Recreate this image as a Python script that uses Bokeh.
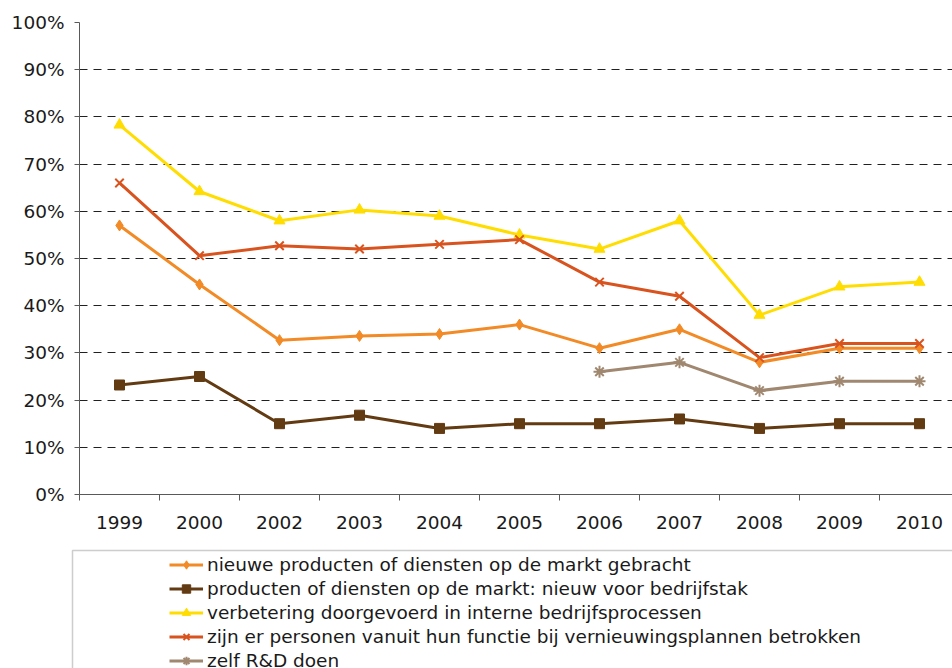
import numpy as np
from bokeh.plotting import figure
from bokeh.layouts import column
from bokeh.models import (Range1d, FixedTicker, PrintfTickFormatter, Legend, LegendItem,
                          BoxAnnotation, ColumnDataSource)
from bokeh.embed import file_html
from bokeh.resources import INLINE

years = ["1999", "2000", "2002", "2003", "2004", "2005", "2006", "2007", "2008", "2009", "2010"]
nieuwe_producten = [57.0, 44.5, 32.7, 33.6, 34.0, 36.0, 31.0, 35.0, 28.0, 31.0, 31.0]
nieuw_bedrijfstak = [23.2, 25.0, 15.0, 16.8, 14.0, 15.0, 15.0, 16.0, 14.0, 15.0, 15.0]
interne_processen = [78.3, 64.2, 58.0, 60.3, 59.0, 55.0, 52.0, 58.0, 38.0, 44.0, 45.0]
personen_betrokken = [66.0, 50.6, 52.7, 52.0, 53.0, 54.0, 45.0, 42.0, 29.0, 32.0, 32.0]
zelf_rd = [None, None, None, None, None, None, 26.0, 28.0, 22.0, 24.0, 24.0]
y_ticks = [0, 10, 20, 30, 40, 50, 60, 70, 80, 90, 100]

labels = [
    "nieuwe producten of diensten op de markt gebracht",
    "producten of diensten op de markt: nieuw voor bedrijfstak",
    "verbetering doorgevoerd in interne bedrijfsprocessen",
    "zijn er personen vanuit hun functie bij vernieuwingsplannen betrokken",
    "zelf R&D doen",
]
series = [nieuwe_producten, nieuw_bedrijfstak, interne_processen, personen_betrokken, zelf_rd]
colors = ["#F28A26", "#633B12", "#FFDD00", "#D9531E", "#A08770"]
markers = ["diamond", "square", "triangle", "x", "asterisk"]
sizes = [11, 10, 11, 12, 12]

FONT = "DejaVu Sans"
W = 952
LEFT, TOP, FRAME_H = 79, 22, 472
TOP_H = 548
BOT_H = 668 - TOP_H
x = list(range(len(years)))
x_end = -0.5 + (W - LEFT) / 80.0

p = figure(width=W, height=TOP_H, output_backend="svg", toolbar_location=None,
           x_range=Range1d(-0.5, x_end), y_range=Range1d(0, 100),
           min_border_left=LEFT, min_border_right=0, min_border_top=TOP,
           min_border_bottom=TOP_H - TOP - FRAME_H)
p.outline_line_color = None
p.background_fill_color = "white"
p.border_fill_color = "white"

# axes
p.yaxis.ticker = FixedTicker(ticks=y_ticks)
p.yaxis.formatter = PrintfTickFormatter(format="%d%%")
p.yaxis.axis_line_color = "#595959"
p.yaxis.major_tick_line_color = "#595959"
p.yaxis.major_tick_out = 5
p.yaxis.major_tick_in = 0
p.yaxis.minor_tick_line_color = None
p.yaxis.major_label_text_font = FONT
p.yaxis.major_label_text_font_size = "18.5px"
p.yaxis.major_label_text_color = "#1a1a1a"
p.yaxis.major_label_standoff = 10

p.xaxis.ticker = FixedTicker(ticks=x, minor_ticks=[i - 0.5 for i in range(len(years) + 1)])
p.xaxis.major_label_overrides = {i: y for i, y in enumerate(years)}
p.xaxis.axis_line_color = "#595959"
p.xaxis.major_tick_line_color = None
p.xaxis.minor_tick_line_color = "#595959"
p.xaxis.minor_tick_out = 6
p.xaxis.minor_tick_in = 0
p.xaxis.major_label_text_font = FONT
p.xaxis.major_label_text_font_size = "18.5px"
p.xaxis.major_label_text_color = "#1a1a1a"
p.xaxis.major_label_standoff = 15

p.xgrid.grid_line_color = None
p.ygrid.ticker = FixedTicker(ticks=y_ticks[1:])
p.ygrid.grid_line_color = "#202020"
p.ygrid.grid_line_dash = "8 6"
p.ygrid.grid_line_width = 1

# legend panel (separate figure below the chart); its view is far away from the data,
# so the shared renderers only provide the legend swatches
L2 = 70
q = figure(width=W, height=BOT_H, output_backend="svg", toolbar_location=None,
           x_range=Range1d(1000, 1001), y_range=Range1d(1000, 1001),
           x_axis_location=None, y_axis_location=None,
           min_border_left=L2, min_border_right=0, min_border_top=0, min_border_bottom=0)
q.outline_line_color = None
q.grid.visible = False
q.background_fill_color = "white"
q.border_fill_color = "white"
for fig in (p, q):
    if "frame_align" in fig.properties():
        fig.frame_align = False

items = []
for lab, vals, c, m, s in zip(labels, series, colors, markers, sizes):
    yv = [np.nan if v is None else v for v in vals]
    src = ColumnDataSource(dict(x=x, y=yv))
    for fig in (p, q):
        r1 = fig.line("x", "y", source=src, line_color=c, line_width=3)
        if m in ("x", "asterisk"):
            r2 = fig.scatter("x", "y", source=src, marker=m, size=s, line_color=c, line_width=2)
        else:
            r2 = fig.scatter("x", "y", source=src, marker=m, size=s, fill_color=c, line_color=c)
    items.append(LegendItem(label=lab, renderers=[r1, r2]))

frame_w = W - L2
box = BoxAnnotation(left=1000 + 2 / frame_w, right=1002, top=1001 - 2 / BOT_H, bottom=999,
                    fill_color=None, line_color="#595959", line_width=1.5)
q.add_layout(box)

pad, ih, sp = 3, 21, 3
leg_h = 2 * pad + 5 * ih + 4 * sp
legend = Legend(items=items, location=(172 - pad - L2, BOT_H - leg_h), orientation="vertical",
                label_text_font=FONT, label_text_font_size="18.5px", label_text_color="#1a1a1a",
                glyph_width=34, glyph_height=ih, label_height=ih, spacing=sp, padding=pad,
                margin=0, label_standoff=4, border_line_color=None,
                background_fill_alpha=0)
q.add_layout(legend, "center")

layout = column(p, q, spacing=0)
open("out.html", "w").write(file_html(layout, INLINE))
